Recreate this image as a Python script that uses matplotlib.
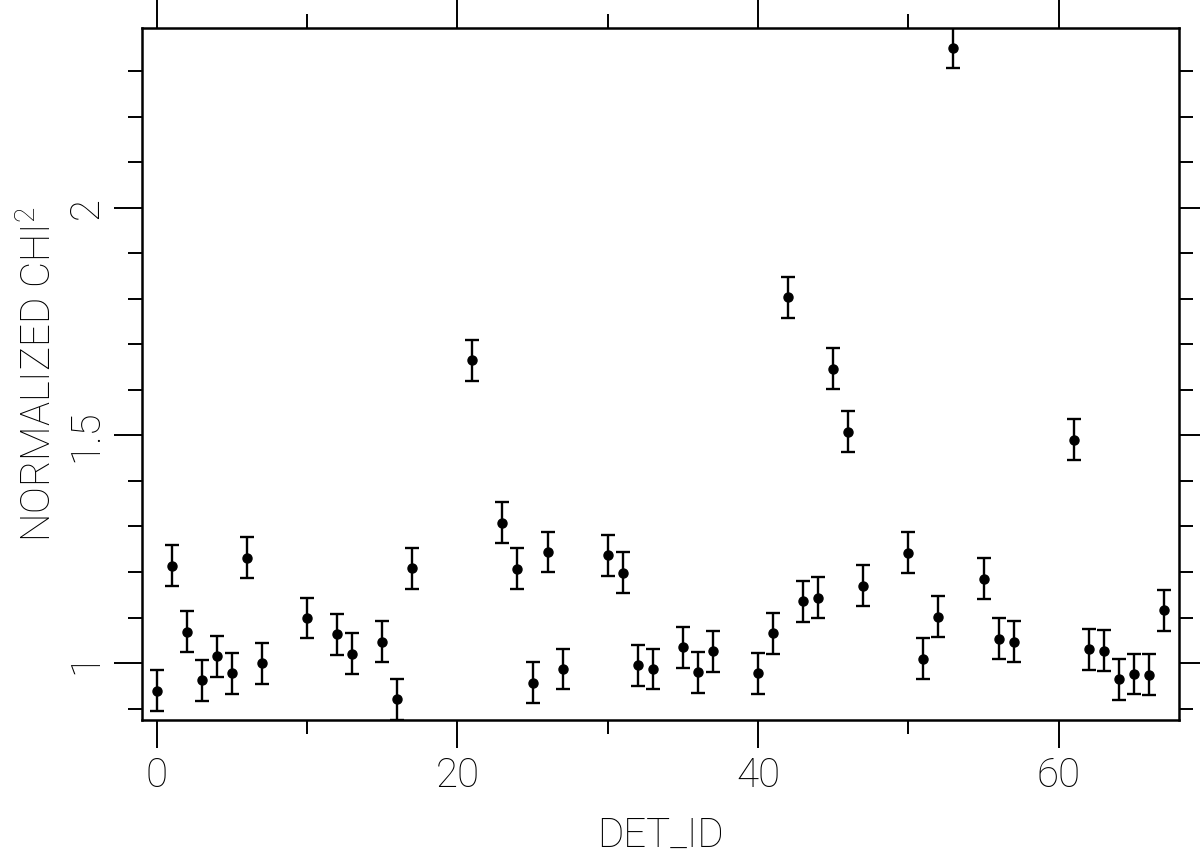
import numpy as np
import matplotlib
matplotlib.use("Agg")
import matplotlib.pyplot as plt
from matplotlib.ticker import MultipleLocator, FuncFormatter

plt.rcParams['font.family'] = ['Roboto', 'DejaVu Sans']
plt.rcParams['font.weight'] = 'light'
plt.rcParams['axes.labelweight'] = 'light'
plt.rcParams['mathtext.default'] = 'regular'

# --- dados ---
det_id = [0, 1, 2, 3, 4, 5, 6, 7, 10, 12, 13, 15, 16, 17,
          21, 23, 24, 25, 26, 27, 30, 31, 32, 33, 35, 36, 37,
          40, 41, 42, 43, 44, 45, 46, 47, 50, 51, 52, 53, 55, 56, 57,
          61, 62, 63, 64, 65, 66, 67]
chi2 = [0.939, 1.214, 1.069, 0.962, 1.015, 0.978, 1.231, 1.000, 1.099, 1.063, 1.020, 1.047, 0.921, 1.208,
        1.665, 1.308, 1.207, 0.957, 1.244, 0.987, 1.237, 1.198, 0.995, 0.987, 1.035, 0.980, 1.026,
        0.978, 1.066, 1.804, 1.136, 1.143, 1.647, 1.508, 1.170, 1.242, 1.009, 1.102, 2.352, 1.185, 1.053, 1.047,
        1.491, 1.030, 1.027, 0.965, 0.976, 0.974, 1.116]
erro = [0.045] * len(det_id)

fig = plt.figure(figsize=(12, 8.66), dpi=100)
ax = fig.add_axes([0.118, 0.1686, 0.8645, 0.7991])

ax.errorbar(det_id, chi2, yerr=erro, fmt='o', color='black', markersize=6.5,
            elinewidth=1.7, capsize=5, capthick=1.7)

ax.set_xlim(-1, 68)
ax.set_ylim(0.875, 2.395)

ax.xaxis.set_major_locator(MultipleLocator(20))
ax.xaxis.set_minor_locator(MultipleLocator(10))
ax.yaxis.set_major_locator(MultipleLocator(0.5))
ax.yaxis.set_minor_locator(MultipleLocator(0.1))
ax.yaxis.set_major_formatter(FuncFormatter(lambda v, p: '%g' % v))

ax.tick_params(which='both', direction='out', top=True, right=True, width=1.4, color='black')
ax.tick_params(which='major', length=20, labelsize=29, labelcolor='black')
ax.tick_params(which='minor', length=10)
ax.tick_params(axis='x', which='major', pad=6)
ax.tick_params(axis='y', which='major', pad=6)
for lbl in ax.get_yticklabels():
    lbl.set_rotation(90)
    lbl.set_va('center')

for s in ax.spines.values():
    s.set_linewidth(1.8)

ax.set_xlabel("DET_ID", fontsize=29, labelpad=16, color='black')
ax.set_ylabel("NORMALIZED CHI$^2$", fontsize=29, labelpad=6, color='black')

fig.savefig("out.png", dpi=100)
